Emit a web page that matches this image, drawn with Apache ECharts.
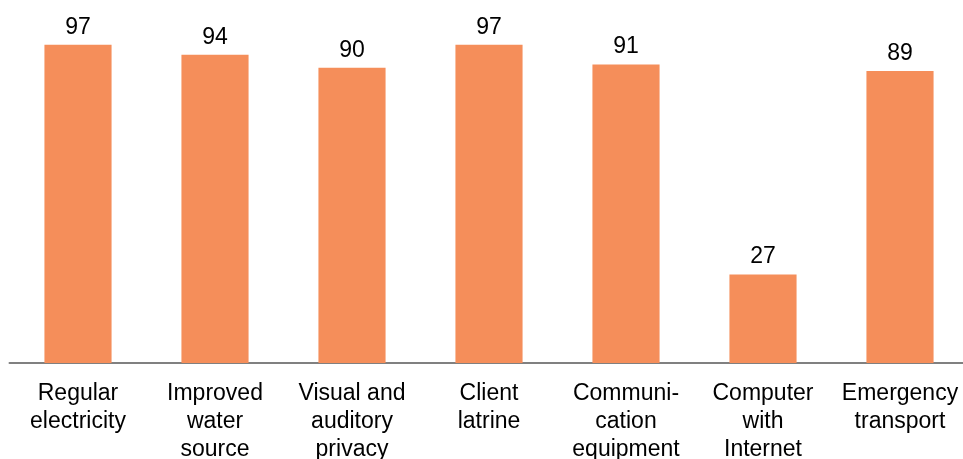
<!DOCTYPE html>
<html><head><meta charset="utf-8">
<script src="https://cdn.jsdelivr.net/npm/echarts@6/dist/echarts.min.js"></script>
<style>html,body{margin:0;padding:0;background:#fff;overflow:hidden}#c{width:975px;height:459px}</style>
</head><body><div id="c"></div>
<script>
const categories = ["Regular\nelectricity", "Improved\nwater\nsource", "Visual and\nauditory\nprivacy", "Client\nlatrine", "Communi-\ncation\nequipment", "Computer\nwith\nInternet", "Emergency\ntransport"];
const values = [97, 94, 90, 97, 91, 27, 89];

const chart = echarts.init(document.getElementById('c'));
chart.setOption({
  animation: false,
  grid: {left: 9.5, width: 959, top: 35, bottom: 96, containLabel: false, outerBoundsMode: 'none'},
  xAxis: {
    type: 'category', data: categories,
    axisLine: {lineStyle: {color: '#808080', width: 2}},
    axisTick: {show: false},
    axisLabel: {color: '#000', fontFamily: 'Liberation Sans, Arial', fontSize: 23, lineHeight: 28, margin: 17, interval: 0}
  },
  yAxis: {type: 'value', min: 0, max: 100, show: false, splitLine: {show: false}},
  series: [{
    type: 'bar', data: values, barWidth: '49%',
    itemStyle: {color: '#F58E5A'},
    label: {show: true, position: 'top', distance: 6, color: '#000', fontFamily: 'Liberation Sans, Arial', fontSize: 23}
  }]
});
</script></body></html>
